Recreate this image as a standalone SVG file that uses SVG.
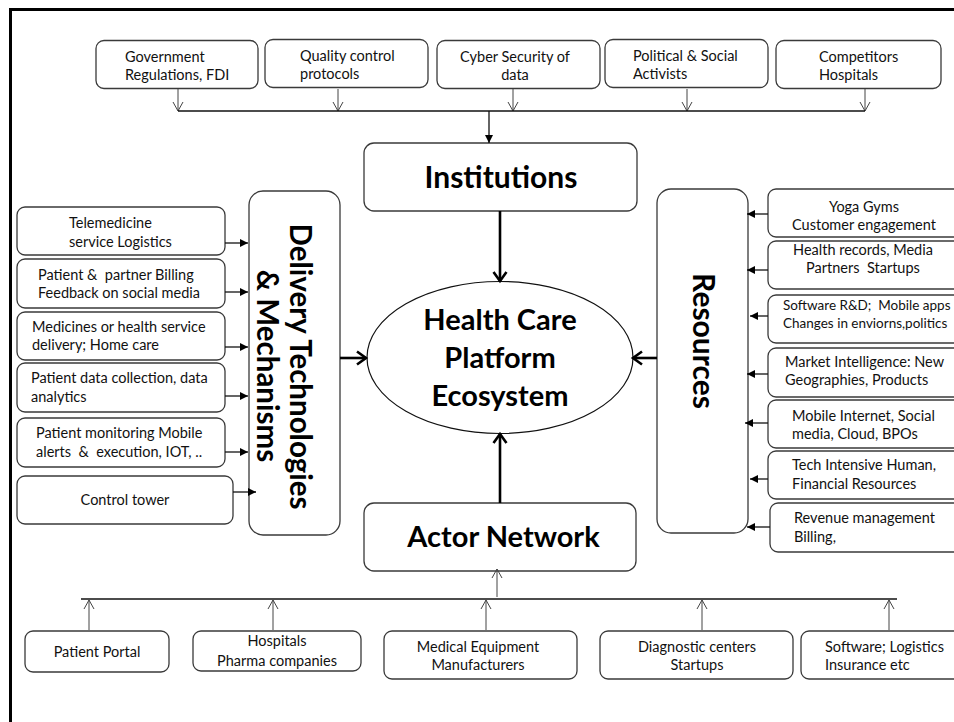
<svg xmlns="http://www.w3.org/2000/svg" width="954" height="722" viewBox="0 0 954 722">
<style>
.bx{fill:#fff;stroke:#3a3a3a;stroke-width:1.3}
.t{font-family:Lato,"Liberation Sans",sans-serif;font-size:14.5px;fill:#111}
.ts{font-family:Lato,"Liberation Sans",sans-serif;font-size:13.5px;fill:#111}
.b{font-family:Lato,"Liberation Sans",sans-serif;font-weight:bold;fill:#000}
.m{text-anchor:middle}
.thin{stroke:#444;stroke-width:1;fill:none}
.med{stroke:#111;stroke-width:1.3;fill:none}
.thick{stroke:#000;stroke-width:2.6;fill:none}
</style>
<defs>
<marker id="open" markerUnits="userSpaceOnUse" markerWidth="14" markerHeight="14" refX="10" refY="6" orient="auto"><path d="M1,1 L10,6 L1,11" fill="none" stroke="#444" stroke-width="1"/></marker>
<marker id="fill" markerUnits="userSpaceOnUse" markerWidth="12" markerHeight="12" refX="8" refY="4" orient="auto"><path d="M0,0 L8,4 L0,8 Z" fill="#000"/></marker>
<marker id="big" markerUnits="userSpaceOnUse" markerWidth="20" markerHeight="20" refX="12" refY="8" orient="auto"><path d="M3,1.5 L12,8 L3,14.5" fill="none" stroke="#000" stroke-width="2.6"/></marker>
</defs>
<rect width="954" height="722" fill="#fff"/>
<path d="M10.5,722 V9.5 H954" fill="none" stroke="#000" stroke-width="3"/>

<g id="n-gov"><rect class="bx" x="96" y="40.5" width="162" height="48" rx="8"/><text class="t" x="125" y="62">Government</text><text class="t" x="125" y="80">Regulations, FDI</text></g>
<g id="n-quality"><rect class="bx" x="265" y="39.5" width="163" height="48" rx="8"/><text class="t" x="300" y="61">Quality control</text><text class="t" x="300" y="79">protocols</text></g>
<g id="n-cyber"><rect class="bx" x="437" y="40.5" width="163" height="48" rx="8"/><text class="t m" x="515" y="62">Cyber Security of</text><text class="t m" x="515" y="80">data</text></g>
<g id="n-political"><rect class="bx" x="605" y="39.5" width="163" height="48" rx="8"/><text class="t" x="633" y="61">Political &amp; Social</text><text class="t" x="633" y="79">Activists</text></g>
<g id="n-competitors"><rect class="bx" x="776" y="40.5" width="165" height="48" rx="8"/><text class="t" x="819" y="62">Competitors</text><text class="t" x="819" y="80">Hospitals</text></g>

<g id="n-institutions"><rect class="bx" x="364" y="143" width="273" height="68" rx="10"/><text class="b m" x="501" y="188" font-size="30">Institutions</text></g>

<g id="n-ecosystem"><ellipse cx="500" cy="357.5" rx="133" ry="76" fill="#fff" stroke="#111" stroke-width="1.2"/><text class="b m" x="500" y="330" font-size="29">Health Care</text><text class="b m" x="500" y="368" font-size="29">Platform</text><text class="b m" x="500" y="406" font-size="29">Ecosystem</text></g>

<g id="n-delivery"><rect class="bx" x="249" y="191" width="91" height="344" rx="14"/><text class="b m" font-size="29.5" transform="translate(290,366.5) rotate(90)">Delivery Technologies</text><text class="b m" font-size="29.5" transform="translate(257,366) rotate(90)">&amp; Mechanisms</text></g>

<g id="n-resources"><rect class="bx" x="657" y="189" width="91" height="344" rx="14"/><text class="b m" font-size="30" transform="translate(693,341) rotate(90)">Resources</text></g>

<g id="n-actor"><rect class="bx" x="364" y="503" width="272" height="68" rx="10"/><text class="b m" x="503.5" y="547" font-size="29">Actor Network</text></g>

<g id="n-tele"><rect class="bx" x="17" y="207" width="208" height="48" rx="8"/><text class="t" x="69" y="228">Telemedicine</text><text class="t" x="69" y="247">service Logistics</text></g>
<g id="n-billing"><rect class="bx" x="17" y="259" width="208" height="49" rx="8"/><text class="t" x="38" y="280" xml:space="preserve">Patient &amp;  partner Billing</text><text class="t" x="38" y="298">Feedback on social media</text></g>
<g id="n-medicines"><rect class="bx" x="17" y="312" width="208" height="48" rx="8"/><text class="t" x="32" y="332">Medicines or health service</text><text class="t" x="32" y="350">delivery; Home care</text></g>
<g id="n-patientdata"><rect class="bx" x="17" y="363" width="208" height="49" rx="8"/><text class="t" x="31" y="383">Patient data collection, data</text><text class="t" x="31" y="402">analytics</text></g>
<g id="n-monitoring"><rect class="bx" x="17" y="418" width="208" height="49" rx="8"/><text class="t" x="36" y="438">Patient monitoring Mobile</text><text class="t" x="36" y="457" xml:space="preserve">alerts  &amp;  execution, IOT, ..</text></g>
<g id="n-control"><rect class="bx" x="17" y="476" width="216" height="48" rx="8"/><text class="t m" x="125" y="505">Control tower</text></g>

<g id="n-yoga"><rect class="bx" x="768" y="189" width="200" height="48" rx="8"/><text class="t m" x="864" y="212">Yoga Gyms</text><text class="t m" x="864" y="230">Customer engagement</text></g>
<g id="n-records"><rect class="bx" x="768" y="241" width="200" height="48" rx="8"/><text class="t m" x="863" y="255">Health records, Media</text><text class="t m" x="863" y="273" xml:space="preserve">Partners  Startups</text></g>
<g id="n-software"><rect class="bx" x="768" y="295" width="200" height="48" rx="8"/><text class="ts" x="783" y="310" xml:space="preserve">Software R&amp;D;  Mobile apps</text><text class="ts" x="783" y="328">Changes in enviorns,politics</text></g>
<g id="n-market"><rect class="bx" x="768" y="348" width="200" height="49" rx="8"/><text class="t" x="785" y="367">Market Intelligence: New</text><text class="t" x="785" y="385">Geographies, Products</text></g>
<g id="n-mobile"><rect class="bx" x="768" y="400" width="200" height="48" rx="8"/><text class="t" x="792" y="421">Mobile Internet, Social</text><text class="t" x="792" y="439">media, Cloud, BPOs</text></g>
<g id="n-tech"><rect class="bx" x="768" y="451" width="200" height="48" rx="8"/><text class="t" x="792" y="470">Tech Intensive Human,</text><text class="t" x="792" y="489">Financial Resources</text></g>
<g id="n-revenue"><rect class="bx" x="770" y="503" width="200" height="49" rx="8"/><text class="t" x="794" y="523">Revenue management</text><text class="t" x="794" y="542">Billing,</text></g>

<g id="n-portal"><rect class="bx" x="25" y="631" width="144" height="41" rx="8"/><text class="t m" x="97" y="657">Patient Portal</text></g>
<g id="n-hospitals"><rect class="bx" x="193" y="631" width="168" height="40" rx="8"/><text class="t m" x="277" y="646">Hospitals</text><text class="t m" x="277" y="666">Pharma companies</text></g>
<g id="n-medical"><rect class="bx" x="384" y="631" width="193" height="48" rx="8"/><text class="t m" x="478" y="652">Medical Equipment</text><text class="t m" x="478" y="670">Manufacturers</text></g>
<g id="n-diagnostic"><rect class="bx" x="600" y="631" width="193" height="48" rx="8"/><text class="t m" x="697" y="652">Diagnostic centers</text><text class="t m" x="697" y="670">Startups</text></g>
<g id="n-softlog"><rect class="bx" x="801" y="631" width="170" height="48" rx="8"/><text class="t" x="825" y="652">Software; Logistics</text><text class="t" x="825" y="670">Insurance etc</text></g>

<g id="connectors">
<path class="thin" d="M178,89 V111" marker-end="url(#open)"/>
<path class="thin" d="M338,89 V111" marker-end="url(#open)"/>
<path class="thin" d="M513,89 V111" marker-end="url(#open)"/>
<path class="thin" d="M687,89 V111" marker-end="url(#open)"/>
<path class="thin" d="M865,89 V111" marker-end="url(#open)"/>
<path class="med" d="M178,111 H865"/>
<path class="med" d="M489,111 V143" marker-end="url(#fill)"/>
<path class="thick" d="M500,211 V281" marker-end="url(#big)"/>
<path class="thick" d="M340,358 H366" marker-end="url(#big)"/>
<path class="thick" d="M657,358 H633" marker-end="url(#big)"/>
<path class="thick" d="M500,503 V434" marker-end="url(#big)"/>
<path class="med" d="M225,243 H248" marker-end="url(#fill)"/>
<path class="med" d="M225,292 H248" marker-end="url(#fill)"/>
<path class="med" d="M225,347 H248" marker-end="url(#fill)"/>
<path class="med" d="M225,396 H248" marker-end="url(#fill)"/>
<path class="med" d="M225,452 H248" marker-end="url(#fill)"/>
<path class="med" d="M233,492 H256" marker-end="url(#fill)"/>
<path class="med" d="M768,214 H747" marker-end="url(#fill)"/>
<path class="med" d="M768,270 H747" marker-end="url(#fill)"/>
<path class="med" d="M768,316 H750" marker-end="url(#fill)"/>
<path class="med" d="M768,374 H747" marker-end="url(#fill)"/>
<path class="med" d="M768,423 H745" marker-end="url(#fill)"/>
<path class="med" d="M768,479 H750" marker-end="url(#fill)"/>
<path class="med" d="M770,527 H747" marker-end="url(#fill)"/>
<path class="med" d="M81,599 H897"/>
<path class="thin" d="M497,597 V569" marker-end="url(#open)"/>
<path class="thin" d="M89,630 V600" marker-end="url(#open)"/>
<path class="thin" d="M273,630 V600" marker-end="url(#open)"/>
<path class="thin" d="M486,630 V600" marker-end="url(#open)"/>
<path class="thin" d="M702,630 V600" marker-end="url(#open)"/>
<path class="thin" d="M889,630 V600" marker-end="url(#open)"/>
</g>
</svg>
